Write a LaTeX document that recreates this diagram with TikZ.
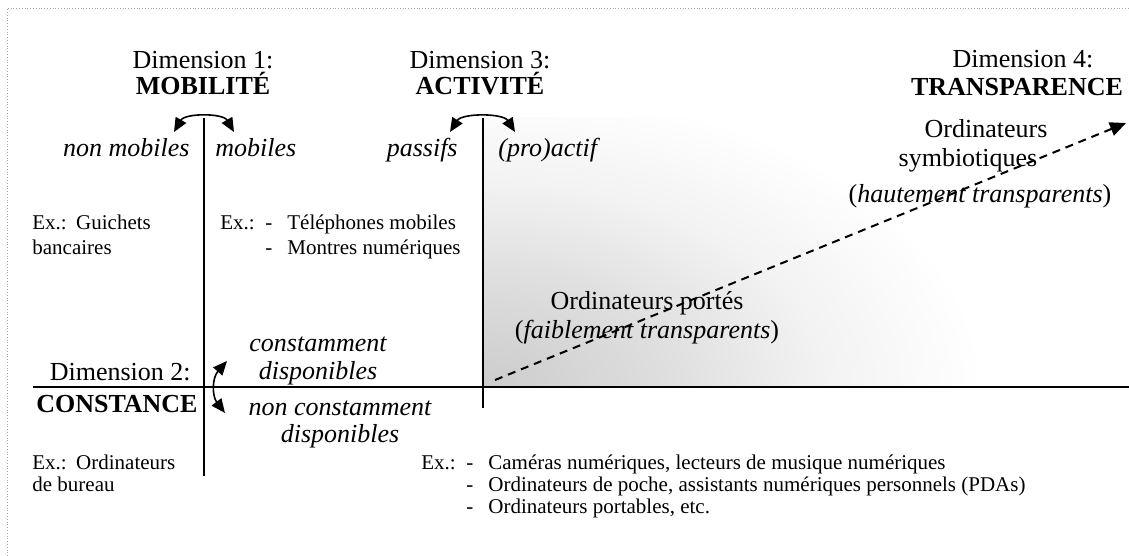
\documentclass[tikz,border=0pt]{standalone}
\usepackage{fontspec}
\setmainfont{Liberation Serif}
\usetikzlibrary{arrows.meta}
% grey glow of the worn-computer zone, fading outwards from its corner
\pgfdeclareradialshading{wornzone}{\pgfpointorigin}{%
  color(0bp)=(black!20); color(9bp)=(black!13); color(17bp)=(black!5);
  color(25bp)=(white); color(50bp)=(white)}
\begin{document}
\begin{tikzpicture}[x=0.5pt,y=-0.5pt,
  big/.style={font=\fontsize{13}{15}\selectfont, inner sep=0pt, anchor=base},
  bigl/.style={big, anchor=base west},
  bigr/.style={big, anchor=base east},
  small/.style={font=\fontsize{10.5}{12}\selectfont, inner sep=0pt, anchor=base west},
  axis/.style={line width=1pt},
  swing/.style={line width=0.8pt, {Triangle[length=7pt,width=6pt]}-{Triangle[length=7pt,width=6pt]}},
  trend/.style={line width=1pt, dash pattern=on 4pt off 3pt, -{Triangle[length=8pt,width=7pt]}},
  frame/.style={gray!70, line width=0.4pt, densely dotted}]
\useasboundingbox (0,0) rectangle (1129,556);

% thin frame on the top and left edges
\coordinate (f-tl) at (7,8);
\coordinate (f-tr) at (1129,8);
\coordinate (f-bl) at (7,556);
\draw[frame] (f-bl) -- (f-tl) -- (f-tr);

% soft grey zone of the worn computers
\begin{scope}
  \clip (484,118) rectangle (1129,386);
  \shade[shading=wornzone] (483,387) ellipse [x radius=250pt, y radius=150pt];
\end{scope}

% axes
\coordinate (m-top) at (204,118);
\coordinate (m-bot) at (204,476);
\coordinate (a-top) at (483,118);
\coordinate (a-bot) at (483,408);
\coordinate (c-left) at (33,387);
\coordinate (c-right) at (1129,387);
\draw[axis] (m-top) -- (m-bot);
\draw[axis] (a-top) -- (a-bot);
\draw[axis] (c-left) -- (c-right);

% two-way swing arrows
\coordinate (m-l) at (174,132);
\coordinate (m-r) at (234,132);
\draw[swing] (m-l) .. controls (185,113) and (223,113) .. (m-r);
\coordinate (a-l) at (450,132);
\coordinate (a-r) at (515,132);
\draw[swing] (a-l) .. controls (462,113) and (503,113) .. (a-r);
\coordinate (c-u) at (227,361);
\coordinate (c-d) at (225,413);
\draw[swing] (c-u) .. controls (212,378) and (212,396) .. (c-d);

% transparency trend
\coordinate (t-start) at (495,380);
\coordinate (t-end) at (1126,123);
\draw[trend] (t-start) -- (t-end);

% dimension titles
\node[big] (d1) at (203,69) {Dimension 1:};
\node[big] (d1b) at (203,95) {\bfseries MOBILITÉ};
\node[big] (d3) at (480,69) {Dimension 3:};
\node[big] (d3b) at (480,95) {\bfseries ACTIVITÉ};
\node[big] (d4) at (1023,68) {Dimension 4:};
\node[big] (d4b) at (1017,96) {\bfseries TRANSPARENCE};
\node[bigr] (d2) at (191,380) {Dimension 2:};
\node[bigr] (d2b) at (198,412) {\bfseries CONSTANCE};

% poles of each dimension
\node[bigr] (nonmob) at (190,156) {\itshape non mobiles};
\node[bigl] (mob) at (215,156) {\itshape mobiles};
\node[bigr] (pass) at (458,156) {\itshape passifs};
\node[bigl] (act) at (498,156) {\itshape (pro)actif};
\node[big] (const1) at (318,351) {\itshape constamment};
\node[big] (const2) at (318,379) {\itshape disponibles};
\node[big] (nconst1) at (340,415) {\itshape non constamment};
\node[big] (nconst2) at (340,442) {\itshape disponibles};

% computer classes along the trend
\node[big] (port1) at (647,309) {Ordinateurs portés};
\node[big] (port2) at (647,338) {(\itshape faiblement transparents\/\upshape)};
\node[big] (sym1) at (986,138) {Ordinateurs};
\node[big] (sym2) at (968,166) {symbiotiques};
\node[big] (sym3) at (980,202) {(\itshape hautement transparents\/\upshape)};

% examples
\node[small] (ex1a) at (32,229) {Ex.:\hspace{0.45em}Guichets};
\node[small] (ex1b) at (32,254) {bancaires};
\node[small] (ex2a) at (220,229) {Ex.:};
\node[small] (ex2d1) at (265,229) {-};
\node[small] (ex2t1) at (287,229) {Téléphones mobiles};
\node[small] (ex2d2) at (265,254) {-};
\node[small] (ex2t2) at (287,254) {Montres numériques};
\node[small] (ex3a) at (32,469) {Ex.:\hspace{0.45em}Ordinateurs};
\node[small] (ex3b) at (32,491) {de bureau};
\node[small] (ex4a) at (421,469) {Ex.:};
\node[small] (ex4d1) at (466,469) {-};
\node[small] (ex4t1) at (488,469) {Caméras numériques, lecteurs de musique numériques};
\node[small] (ex4d2) at (466,491) {-};
\node[small] (ex4t2) at (488,491) {Ordinateurs de poche, assistants numériques personnels (PDAs)};
\node[small] (ex4d3) at (466,513) {-};
\node[small] (ex4t3) at (488,513) {Ordinateurs portables, etc.};
\end{tikzpicture}
\end{document}
